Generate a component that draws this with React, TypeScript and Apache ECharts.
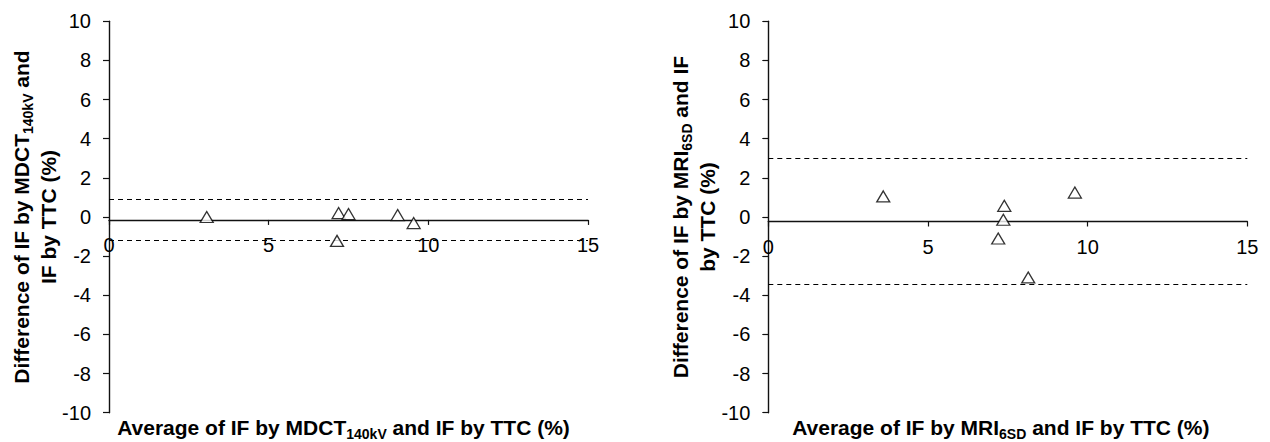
import React, { useEffect, useRef } from "react";
import * as echarts from "echarts";

// Left panel: MDCT140kV vs TTC
const leftAvg = [3.06, 7.19, 7.5, 9.04, 9.54, 7.14];
const leftDiff = [0.0, 0.2, 0.15, 0.1, -0.31, -1.22];
const leftBias = -0.15;
const leftUpper = 0.92;
const leftLower = -1.2;

// Right panel: MRI6SD vs TTC
const rightAvg = [3.6, 7.39, 7.36, 7.2, 8.14, 9.6];
const rightDiff = [1.05, 0.57, -0.14, -1.1, -3.09, 1.25];
const rightBias = -0.23;
const rightUpper = 3.0;
const rightLower = -3.45;

const xMin = 0;
const xMax = 15;
const xInterval = 5;
const yMin = -10;
const yMax = 10;
const yInterval = 2;

const FONT = "'Liberation Sans', Arial, sans-serif";

const rich = {
  b: { fontSize: 21, fontWeight: "bold", fontFamily: FONT, color: "#000", lineHeight: 27, verticalAlign: "middle" },
  s: { fontSize: 14, fontWeight: "bold", fontFamily: FONT, color: "#000", lineHeight: 16, verticalAlign: "bottom" },
};

export default function App() {
  const ref = useRef<HTMLDivElement>(null);
  useEffect(() => {
    if (!ref.current) return;
    const chart = echarts.init(ref.current, null, { renderer: "svg" });
    const gridTop = 21.3;
    const gridH = 391.4;
    const gridBottom = gridTop + gridH;
    const pix = (v: number) => gridTop + ((yMax - v) / (yMax - yMin)) * gridH;
    const panels = [
      {
        left: 109,
        avg: leftAvg,
        diff: leftDiff,
        bias: leftBias,
        upper: leftUpper,
        lower: leftLower,
        xShift: 10,
        yName: "{b|Difference of IF by MDCT}{s|140kV}{b| and}\n{b|IF by TTC (%)}",
        xName: "{b|Average of IF by MDCT}{s|140kV}{b| and IF by TTC (%)}",
      },
      {
        left: 768.3,
        avg: rightAvg,
        diff: rightDiff,
        bias: rightBias,
        upper: rightUpper,
        lower: rightLower,
        xShift: 14,
        yName: "{b|Difference of IF by MRI}{s|6SD}{b| and IF}\n{b|by TTC (%)}",
        xName: "{b|Average of IF by MRI}{s|6SD}{b| and IF by TTC (%)}",
      },
    ];
    const lineColor = "#111";
    const option: any = {
      animation: false,
      textStyle: { fontFamily: FONT },
      grid: panels.map((p) => ({
        left: p.left,
        top: gridTop,
        width: 479,
        height: gridH,
        containLabel: false,
        outerBoundsMode: "none",
      })),
      xAxis: panels.map((p, i) => ({
        type: "value",
        gridIndex: i,
        min: xMin,
        max: xMax,
        interval: xInterval,
        position: "bottom",
        // x axis crosses the y axis at the mean difference (bias)
        offset: pix(p.bias) - gridBottom,
        axisLine: { show: true, onZero: false, lineStyle: { color: lineColor, width: 1.4 } },
        axisTick: { show: true, length: 5, lineStyle: { color: lineColor, width: 1.2 } },
        axisLabel: { margin: 15, fontSize: 20, color: "#000", fontFamily: FONT },
        splitLine: { show: false },
        name: p.xName,
        nameLocation: "middle",
        nameGap: 413.5 - pix(p.bias),
        nameMoveOverlap: false,
        nameTextStyle: { rich, padding: [0, p.xShift, 0, 0] },
      })),
      yAxis: panels.map((p, i) => ({
        type: "value",
        gridIndex: i,
        min: yMin,
        max: yMax,
        interval: yInterval,
        position: "left",
        axisLine: { show: true, onZero: false, lineStyle: { color: lineColor, width: 1.4 } },
        axisTick: { show: true, length: 6, lineStyle: { color: lineColor, width: 1.2 } },
        axisLabel: { margin: 18, fontSize: 20, color: "#000", fontFamily: FONT },
        splitLine: { show: false },
        name: p.yName,
        nameLocation: "middle",
        nameRotate: 90,
        nameGap: 47,
        nameMoveOverlap: false,
        nameTextStyle: { rich, align: "center" },
      })),
      series: panels.map((p, i) => ({
        type: "scatter",
        xAxisIndex: i,
        yAxisIndex: i,
        symbol: "triangle",
        symbolSize: [13, 11],
        itemStyle: { color: "#fff", borderColor: "#000", borderWidth: 1.3 },
        data: p.avg.map((x, k) => [x, p.diff[k]]),
        z: 5,
        markLine: {
          silent: true,
          symbol: ["none", "none"],
          label: { show: false },
          lineStyle: { type: [5, 4], color: "#000", width: 1.2 },
          data: [{ yAxis: p.upper }, { yAxis: p.lower }],
        },
      })),
    };
    chart.setOption(option);
    return () => chart.dispose();
  }, []);
  return <div ref={ref} style={{ position: "absolute", left: 0, top: 0, width: 1270, height: 442, background: "#fff" }} />;
}
